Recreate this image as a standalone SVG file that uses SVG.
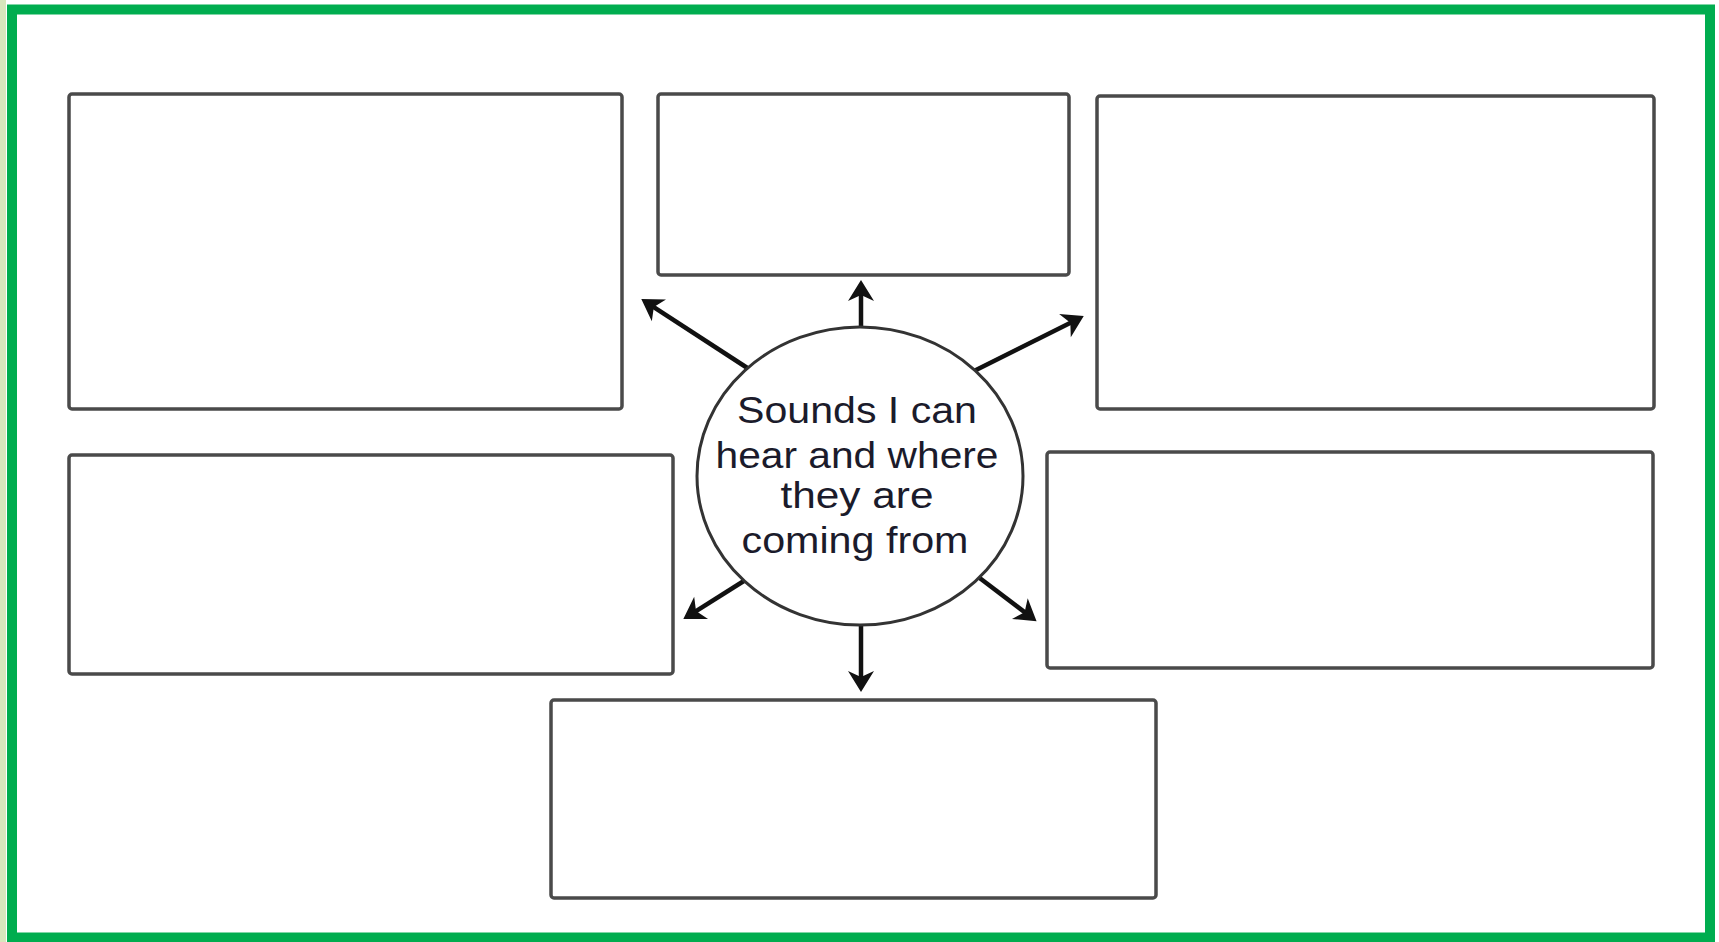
<svg xmlns="http://www.w3.org/2000/svg" width="1719" height="942" viewBox="0 0 1719 942">
<style>
.box{fill:#fff;stroke:#4a4a4a;stroke-width:3.5}
.hub{fill:#fff;stroke:#333;stroke-width:3}
.conn{fill:none;stroke:#111;stroke-width:4.5;marker-end:url(#ah)}
.lbl{font-family:"Comic Sans MS","Liberation Sans",sans-serif;font-size:36px;fill:#1b1b2b;text-anchor:middle}
</style>
<defs>
<marker id="ah" markerUnits="userSpaceOnUse" viewBox="-15 -15 25 30" refX="0" refY="0" markerWidth="25" markerHeight="30" orient="auto">
<path d="M8,0 L-13,-13 L-7,0 L-13,13 Z" fill="#111"/>
</marker>
</defs>
<rect x="0" y="0" width="1719" height="942" fill="#fff"/>
<rect x="0" y="0" width="6" height="942" fill="#d8e6bd"/>
<rect id="frame" x="12" y="9.5" width="1698" height="928" fill="none" stroke="#00ad4f" stroke-width="10"/>
<g id="connectors">
<line class="conn" x1="861" y1="335" x2="861" y2="288"/>
<line class="conn" x1="752" y1="371" x2="648" y2="303.3"/>
<line class="conn" x1="970" y1="373" x2="1076.6" y2="319.7"/>
<line class="conn" x1="747" y1="579" x2="690.1" y2="614.8"/>
<line class="conn" x1="977" y1="576" x2="1030.2" y2="616.4"/>
<line class="conn" x1="861" y1="618" x2="861" y2="684"/>
</g>
<g id="box-top-left"><rect class="box" x="69" y="94" width="553" height="315" rx="3"/></g>
<g id="box-top-middle"><rect class="box" x="658" y="94" width="411" height="181" rx="3"/></g>
<g id="box-top-right"><rect class="box" x="1097" y="96" width="557" height="313" rx="3"/></g>
<g id="box-mid-left"><rect class="box" x="69" y="455" width="604" height="219" rx="3"/></g>
<g id="box-mid-right"><rect class="box" x="1047" y="452" width="606" height="216" rx="3"/></g>
<g id="box-bottom"><rect class="box" x="551" y="700" width="605" height="198" rx="3"/></g>
<g id="hub">
<ellipse class="hub" cx="860" cy="476" rx="163" ry="149"/>
<text class="lbl" x="857" y="423" textLength="240" lengthAdjust="spacingAndGlyphs">Sounds I can</text>
<text class="lbl" x="857" y="468" textLength="283" lengthAdjust="spacingAndGlyphs">hear and where</text>
<text class="lbl" x="857" y="508" textLength="153" lengthAdjust="spacingAndGlyphs">they are</text>
<text class="lbl" x="855" y="553" textLength="227" lengthAdjust="spacingAndGlyphs">coming from</text>
</g>
</svg>
